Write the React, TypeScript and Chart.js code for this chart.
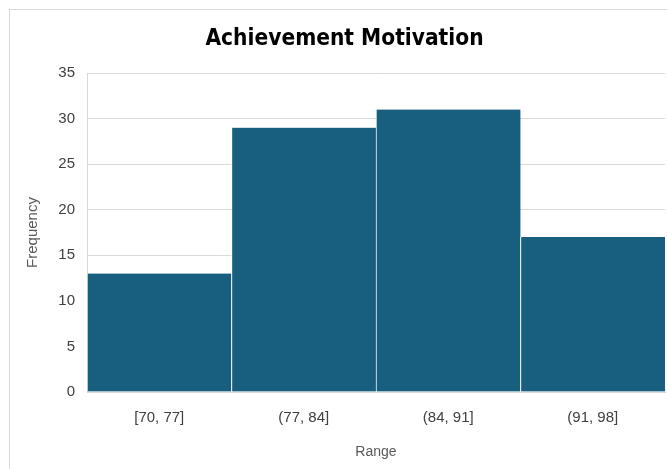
import React, { useEffect, useRef } from "react";
import { Chart, registerables } from "chart.js";

Chart.register(...registerables);

const TITLE = "Achievement Motivation";
const X_TITLE = "Range";
const Y_TITLE = "Frequency";
const categories = ["[70, 77]", "(77, 84]", "(84, 91]", "(91, 98]"];
const frequencies = [13, 29, 31, 17];
const Y_MAX = 35;
const Y_STEP = 5;

export default function App() {
  const ref = useRef<HTMLCanvasElement | null>(null);

  useEffect(() => {
    if (!ref.current) return;
    const chart = new Chart(ref.current, {
      type: "bar",
      data: {
        labels: categories,
        datasets: [
          {
            data: frequencies,
            backgroundColor: "#175e7f",
            borderColor: "#ffffff",
            borderWidth: { left: 1, right: 0, top: 0, bottom: 0 },
            borderSkipped: false,
            barPercentage: 1,
            categoryPercentage: 1,
          },
        ],
      },
      options: {
        animation: false,
        responsive: false,
        maintainAspectRatio: false,
        layout: { padding: { left: 14, right: 15, top: 0, bottom: 0 } },
        plugins: {
          legend: { display: false },
          tooltip: { enabled: false },
          title: {
            display: true,
            text: TITLE,
            color: "#000000",
            font: { family: "'Liberation Sans Narrow', 'DejaVu Sans Condensed', sans-serif", size: 22.5, weight: "bold" },
            padding: { top: 15.5, bottom: 20.5 },
          },
        },
        scales: {
          x: {
            grid: { display: false, drawTicks: false },
            border: { display: true, color: "#d9d9d9" },
            ticks: {
              color: "#404040",
              font: { family: "'Liberation Sans', sans-serif", size: 15 },
              padding: 17,
            },
            title: {
              display: true,
              text: X_TITLE,
              color: "#595959",
              font: { family: "'Liberation Sans', sans-serif", size: 14 },
              padding: { top: 0, bottom: 9 },
            },
            afterFit: (s: any) => {
              s.height = 78;
            },
          },
          y: {
            min: 0,
            max: Y_MAX,
            ticks: {
              stepSize: Y_STEP,
              color: "#404040",
              font: { family: "'Liberation Sans', sans-serif", size: 15 },
              padding: 12,
            },
            grid: { color: "#d9d9d9", drawTicks: false },
            border: { display: true, color: "#d9d9d9" },
            title: {
              display: true,
              text: Y_TITLE,
              color: "#595959",
              font: { family: "'Liberation Sans', sans-serif", size: 15 },
              padding: { top: 0, bottom: 0 },
            },
            afterFit: (s: any) => {
              s.width = 63;
            },
          },
        },
      },
    });
    return () => chart.destroy();
  }, []);

  return (
    <div style={{ position: "fixed", left: 0, top: 0, width: 667, height: 469, overflow: "hidden", background: "#fff" }}>
      <div
        style={{
          position: "absolute",
          left: 9,
          top: 9,
          width: 700,
          height: 500,
          borderLeft: "1px solid #d9d9d9",
          borderTop: "1px solid #d9d9d9",
        }}
      />
      <canvas ref={ref} width={670} height={460} style={{ position: "absolute", left: 10, top: 10, width: 670, height: 460 }} />
    </div>
  );
}
